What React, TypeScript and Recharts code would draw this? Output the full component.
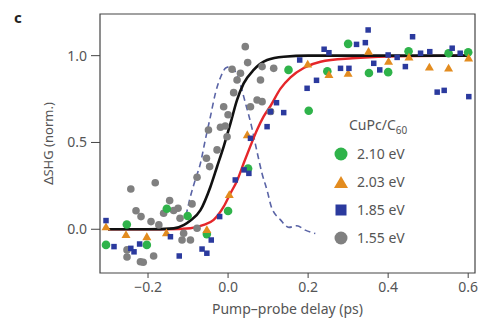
import React from 'react';
import {
  ComposedChart,
  Scatter,
  Line,
  XAxis,
  YAxis,
  ReferenceArea,
} from 'recharts';

// delay (ps), normalised ΔSHG
const green210: [number, number][] = [
  [-0.305, -0.09], [-0.253, 0.027], [-0.203, -0.09], [-0.153, 0.118], [-0.101, 0.076],
  [-0.053, -0.028], [0.0, 0.105], [0.05, 0.35], [0.151, 0.918], [0.2015, 0.683],
  [0.248, 0.91], [0.3, 1.068], [0.352, 0.9], [0.4, 0.905], [0.451, 1.025],
  [0.551, 1.014], [0.6, 1.02],
];

const orange203: [number, number][] = [
  [-0.305, 0.012], [-0.255, -0.033], [-0.203, -0.045], [-0.154, -0.022], [-0.053, -0.004],
  [0.003, 0.198], [0.048, 0.543], [0.199, 0.95], [0.252, 0.889], [0.3, 0.897],
  [0.351, 1.023], [0.401, 0.965], [0.452, 0.99], [0.503, 0.932], [0.551, 0.927],
  [0.601, 0.985],
];

const blue185: [number, number][] = [
  [-0.305, 0.05], [-0.285, -0.1], [-0.243, -0.11], [-0.235, -0.13], [-0.221, -0.085],
  [-0.144, -0.043], [-0.122, -0.154], [-0.065, -0.114], [-0.053, -0.138], [-0.042, -0.062],
  [-0.021, 0.073], [0.018, 0.284], [0.04, 0.342], [0.052, 0.322], [0.056, 0.524],
  [0.0975, 0.591], [0.106, 0.677], [0.121, 0.729], [0.139, 0.672], [0.179, 0.975],
  [0.1975, 0.812], [0.221, 0.858], [0.24, 1.037], [0.252, 1.017], [0.281, 0.927],
  [0.302, 0.927], [0.321, 1.065], [0.343, 1.075], [0.35, 1.148], [0.364, 0.956],
  [0.379, 0.918], [0.4, 1.004], [0.4225, 0.99], [0.443, 0.937], [0.461, 1.109],
  [0.481, 1.014], [0.504, 1.023], [0.5225, 0.79], [0.54, 0.8], [0.56, 1.043],
  [0.58, 1.014], [0.6015, 0.764],
];

const gray155: [number, number][] = [
  [-0.2525, -0.119], [-0.2525, -0.16], [-0.219, -0.187], [-0.212, -0.19], [-0.186, -0.154],
  [-0.243, 0.232], [-0.182, 0.268], [-0.23, 0.107], [-0.2175, 0.073], [-0.1925, 0.044],
  [-0.173, 0.025], [-0.161, 0.092], [-0.146, 0.165], [-0.136, 0.108], [-0.125, 0.121],
  [-0.12, 0.063], [-0.115, -0.062], [-0.111, -0.023], [-0.094, -0.062], [-0.0775, 0.006],
  [-0.09, 0.146], [-0.0775, 0.3], [-0.054, 0.409], [-0.046, 0.361], [-0.049, 0.572],
  [-0.0275, 0.457], [-0.019, 0.588], [-0.007, 0.595], [-0.0025, 0.533], [-0.011, 0.706],
  [0.0, 0.66], [0.014, 0.787], [0.0225, 0.86], [0.01, 0.922], [0.031, 0.899],
  [0.043, 1.052], [0.049, 0.96], [0.056, 0.706], [0.0725, 0.745], [0.085, 0.735],
  [0.081, 0.86], [0.085, 0.937], [0.106, 0.678], [0.114, 0.927],
];

const blackFit: [number, number][] = [
  [-0.3, 0], [-0.2, 0], [-0.136, 0.005], [-0.11, 0.025], [-0.094, 0.05], [-0.069, 0.11],
  [-0.044, 0.245], [-0.0275, 0.36], [-0.011, 0.476], [0.006, 0.61], [0.0225, 0.745],
  [0.039, 0.84], [0.064, 0.918], [0.0975, 0.975], [0.139, 0.994], [0.2, 1.0], [0.6, 1.0],
];

const redFit: [number, number][] = [
  [-0.3, 0], [-0.15, 0], [-0.094, 0.006], [-0.061, 0.025], [-0.036, 0.054], [-0.011, 0.13],
  [0.006, 0.207], [0.0225, 0.28], [0.039, 0.38], [0.056, 0.48], [0.072, 0.57],
  [0.089, 0.65], [0.106, 0.71], [0.131, 0.81], [0.156, 0.875], [0.19, 0.93],
  [0.231, 0.965], [0.31, 0.985], [0.4, 0.995], [0.6, 1.0],
];

const pumpProfile: [number, number][] = [
  [-0.105, 0.08], [-0.095, 0.18], [-0.082, 0.284], [-0.069, 0.38], [-0.057, 0.514],
  [-0.044, 0.65], [-0.032, 0.78], [-0.018, 0.88], [-0.005, 0.93], [0.006, 0.937],
  [0.015, 0.92], [0.027, 0.86], [0.043, 0.73], [0.06, 0.58], [0.072, 0.45],
  [0.085, 0.32], [0.098, 0.22], [0.108, 0.13], [0.131, 0.054], [0.152, 0.011],
  [0.172, 0.02], [0.193, -0.005], [0.218, -0.025],
];

const xTicks = [-0.2, 0, 0.2, 0.4, 0.6];
const yTicks = [0, 0.5, 1];
const legendLabels = ['2.10 eV', '2.03 eV', '1.85 eV', '1.55 eV'];

const X_DOMAIN: [number, number] = [-0.32, 0.617];
const Y_DOMAIN: [number, number] = [-0.252, 1.24];

const FONT = '"Noto Sans", "Open Sans", sans-serif';
const TEXT = '#555';

const GREEN = '#2fb34a';
const ORANGE = '#e38c1f';
const BLUE = '#2b3a9e';
const GRAY = '#808080';

const toPts = (arr: [number, number][]) => arr.map(([x, y]) => ({ x, y }));

const fmt = (v: number) => (v < 0 ? '\u2212' + Math.abs(v).toFixed(1) : v.toFixed(1));

const Dot = (color: string, r: number) => (p: any) =>
  <circle cx={p.cx} cy={p.cy} r={r} fill={color} />;

const Square = (color: string, s: number) => (p: any) =>
  <rect x={p.cx - s / 2} y={p.cy - s / 2} width={s} height={s} fill={color} />;

const Tri = (color: string, s: number) => (p: any) => {
  const h = s * 0.87;
  return (
    <polygon
      points={`${p.cx},${p.cy - h * 0.6} ${p.cx - s / 2},${p.cy + h * 0.4} ${p.cx + s / 2},${p.cy + h * 0.4}`}
      fill={color}
    />
  );
};

const LegendBox = () => {
  const markers = [
    <circle cx={7} cy={7} r={6.5} fill={GREEN} />,
    <polygon points="0,13 7,1 14,13" fill={ORANGE} />,
    <rect x={1.5} y={1.5} width={11} height={11} fill={BLUE} />,
    <circle cx={7} cy={7} r={6.5} fill={GRAY} />,
  ];
  return (
    <div style={{ fontFamily: FONT, color: TEXT, fontSize: 14, lineHeight: '18px' }}>
      <div style={{ marginLeft: 15, marginBottom: 6 }}>
        CuPc/C<sub style={{ fontSize: 10, lineHeight: 0 }}>60</sub>
      </div>
      {legendLabels.map((l, i) => (
        <div key={l} style={{ display: 'flex', alignItems: 'center', height: 28 }}>
          <svg width={14} height={14} style={{ marginRight: 9 }}>{markers[i]}</svg>
          <span>{l}</span>
        </div>
      ))}
    </div>
  );
};

export default function App() {
  return (
    <div style={{ position: 'absolute', left: 0, top: 0, width: 483, height: 320, background: '#fff' }}>
      <ComposedChart
        width={483}
        height={320}
        margin={{ top: 14, right: 8, bottom: 0, left: 0 }}
      >
        <XAxis
          dataKey="x"
          type="number"
          domain={X_DOMAIN}
          ticks={xTicks}
          allowDataOverflow
          tickFormatter={fmt}
          axisLine={false}
          tickLine={{ stroke: '#444' }}
          tickSize={5}
          tickMargin={4}
          height={47}
          tick={{ fill: TEXT, fontSize: 14, fontFamily: FONT }}
          label={{ value: 'Pump\u2013probe delay (ps)', position: 'insideBottom', offset: 6, fill: TEXT, fontSize: 14, fontFamily: FONT }}
        />
        <YAxis
          dataKey="y"
          type="number"
          domain={Y_DOMAIN}
          ticks={yTicks}
          allowDataOverflow
          tickFormatter={fmt}
          axisLine={false}
          tickLine={{ stroke: '#444' }}
          tickSize={9}
          tickMargin={4}
          width={100}
          tick={{ fill: TEXT, fontSize: 14, fontFamily: FONT }}
          label={{ value: '\u0394SHG (norm.)', angle: -90, position: 'center', dx: -2, fill: TEXT, fontSize: 13, fontFamily: FONT }}
        />
        <ReferenceArea x1={X_DOMAIN[0]} x2={X_DOMAIN[1]} y1={Y_DOMAIN[0]} y2={Y_DOMAIN[1]} fill="none" stroke="#444" strokeWidth={1.2} />
        <Scatter data={toPts(gray155)} dataKey="y" shape={Dot(GRAY, 3.8)} isAnimationActive={false} />
        <Scatter data={toPts(green210)} dataKey="y" shape={Dot(GREEN, 4.3)} isAnimationActive={false} />
        <Scatter data={toPts(orange203)} dataKey="y" shape={Tri(ORANGE, 9)} isAnimationActive={false} />
        <Scatter data={toPts(blue185)} dataKey="y" shape={Square(BLUE, 5.5)} isAnimationActive={false} />
        <Line data={toPts(pumpProfile)} dataKey="y" type="monotone" stroke="#5a64a6" strokeWidth={1.6} strokeDasharray="6 4" dot={false} isAnimationActive={false} />
        <Line data={toPts(redFit)} dataKey="y" type="monotone" stroke="#e5262a" strokeWidth={2.4} dot={false} isAnimationActive={false} />
        <Line data={toPts(blackFit)} dataKey="y" type="monotone" stroke="#111" strokeWidth={2.6} dot={false} isAnimationActive={false} />
      </ComposedChart>
      <div style={{ position: 'absolute', left: 14, top: 7, fontFamily: FONT, fontWeight: 700, fontSize: 15, color: '#222' }}>
        c
      </div>
      <div style={{ position: 'absolute', left: 334, top: 116 }}>
        <LegendBox />
      </div>
    </div>
  );
}
